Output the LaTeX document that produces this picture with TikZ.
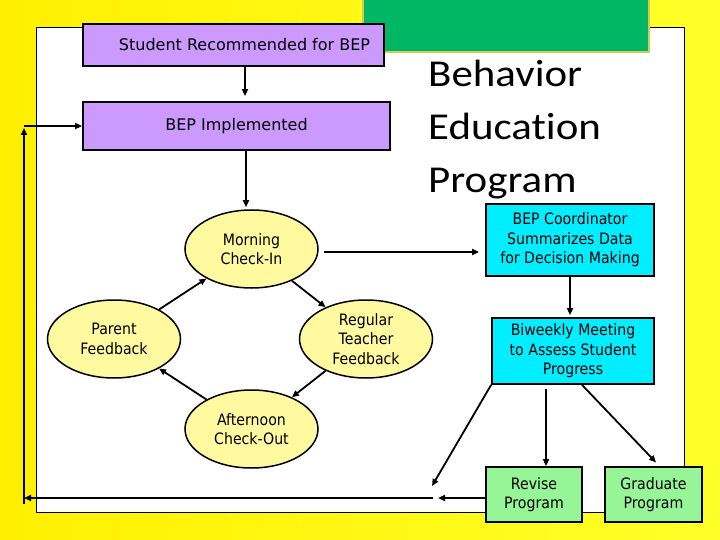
\documentclass[tikz,border=0pt]{standalone}
\usepackage{fontspec}
\setmainfont{DejaVu Sans}
\newfontfamily\narrowfont{DejaVu Sans}[FakeStretch=0.9]
\newfontfamily\headfont{Carlito}[FakeStretch=1.13, Ligatures={NoCommon,NoContextual}, RawFeature=-calt]
\usetikzlibrary{shapes.geometric,arrows.meta}
\definecolor{bepyellow}{RGB}{255,255,40}
\definecolor{bepyellowdark}{RGB}{255,240,0}
\definecolor{beplavender}{RGB}{204,153,255}
\definecolor{bepcream}{RGB}{255,250,160}
\definecolor{bepcyan}{RGB}{0,238,255}
\definecolor{bepmint}{RGB}{150,245,150}
\definecolor{bepgreen}{RGB}{0,184,100}
\definecolor{bepolive}{RGB}{205,205,90}

\begin{document}
\begin{tikzpicture}[x=1pt, y=-1pt,
 bigbox/.style={draw, line width=1.8pt, fill=beplavender, inner sep=0pt, align=center, font=\fontsize{16}{19}\selectfont},
 databox/.style={draw, line width=1.8pt, fill=bepcyan, inner sep=0pt, align=center, font=\narrowfont\fontsize{15.7}{19.5}\selectfont},
 endbox/.style={draw, line width=1.8pt, fill=bepmint, inner sep=0pt, align=center, font=\narrowfont\fontsize{15.7}{19.5}\selectfont},
 cycle/.style={ellipse, draw, line width=1.5pt, fill=bepcream, inner sep=0pt, minimum width=133pt, minimum height=78pt, align=center, font=\narrowfont\fontsize{15.7}{19.5}\selectfont},
 arr/.style={line width=1.8pt, -{Triangle[length=7pt,width=6pt]}}]
 \useasboundingbox (0,0) rectangle (720,540);
 \shade[left color=bepyellowdark, right color=bepyellow] (0,0) rectangle (720,540);
 \draw[fill=white, line width=0.8pt] (36,27) rectangle (684,512);
 \draw[fill=bepgreen, draw=bepolive, line width=2pt] (363,-5) rectangle (649,52);
 \node[anchor=north west, inner sep=0pt, align=left, font=\headfont\fontsize{38}{53}\selectfont] (title) at (428,60) {Behavior\\Education\\Program};

 \node[bigbox, minimum width=301pt, minimum height=42pt] (recommended) at (233.5,45) {\hspace{22pt}Student Recommended for BEP};
 \node[bigbox, minimum width=307pt, minimum height=48pt] (implemented) at (236.5,126) {BEP Implemented};

 \node[cycle] (morning) at (251.5,249) {Morning\\Check-In};
 \node[cycle] (regular) at (366,339) {Regular\\Teacher\\Feedback};
 \node[cycle] (afternoon) at (251.5,429) {Afternoon\\Check-Out};
 \node[cycle] (parent) at (114,339) {Parent\\Feedback};

 \node[databox, minimum width=168pt, minimum height=72pt] (coordinator) at (570,240) {BEP Coordinator\\Summarizes Data\\for Decision Making};
 \node[databox, minimum width=162pt, minimum height=66pt] (biweekly) at (573,351) {Biweekly Meeting\\to Assess Student\\Progress};
 \node[endbox, minimum width=96pt, minimum height=55pt] (revise) at (534,494.5) {Revise\\Program};
 \node[endbox, minimum width=97pt, minimum height=55pt] (graduate) at (653.5,494.5) {Graduate\\Program};

 \coordinate (drop) at (432,486);
 \coordinate (turn) at (433,498);
 \coordinate (cornerbl) at (24,498);
 \coordinate (cornertl) at (24,126);

 \draw[arr, shorten >=5pt] ([xshift=11.5pt]recommended.south) -- ([xshift=11.5pt]recommended.south |- implemented.north);
 \draw[arr, shorten >=2pt] ([xshift=9.5pt]implemented.south) -- ([xshift=9.5pt]implemented.south |- morning.north);
 \draw[arr, shorten <=5pt, shorten >=6pt] ([yshift=-3pt]morning.east) -- ([yshift=-3pt]morning.east -| coordinator.west);
 \draw[arr, shorten >=2pt] (coordinator.south) -- (coordinator.south |- biweekly.north);
 \draw[arr, shorten <=4pt] ([xshift=12pt]revise.north |- biweekly.south) -- ([xshift=12pt]revise.north);
 \draw[arr, shorten >=5pt] ([xshift=9pt]biweekly.south) -- ([xshift=6pt]graduate.north);
 \draw[arr] (biweekly.south west) -- (drop);
 \draw[arr, shorten >=5pt] ([yshift=-3.5pt]revise.west) -- ([yshift=-3.5pt]revise.west -| turn);
 \draw[arr] (turn) -- (cornerbl);
 \draw[arr, shorten >=2pt] ([yshift=-6pt]cornerbl) -- (cornertl);
 \draw[arr] (cornertl) -- (implemented.west);

 \draw[arr] (morning) -- (regular);
 \draw[arr] (regular) -- (afternoon);
 \draw[arr] (afternoon) -- (parent);
 \draw[arr] (parent) -- (morning);
\end{tikzpicture}
\end{document}
